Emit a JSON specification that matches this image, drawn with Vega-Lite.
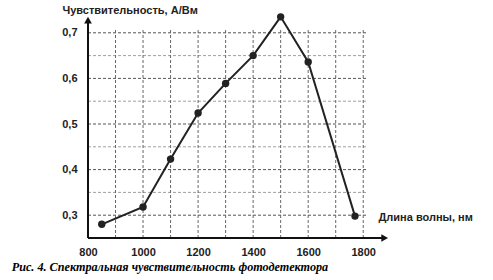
{
  "$schema": "https://vega.github.io/schema/vega-lite/v6.json",
  "width": 300,
  "height": 228,
  "autosize": "none",
  "padding": {"left": 88, "top": 10, "right": 105, "bottom": 42},
  "background": "white",
  "config": {"view": {"stroke": null}},
  "title": {
    "text": "Рис. 4. Спектральная чувствительность фотодетектора",
    "orient": "bottom",
    "anchor": "start",
    "dx": -50,
    "offset": 4,
    "font": "Liberation Serif",
    "fontStyle": "italic",
    "fontWeight": "bold",
    "fontSize": 12.2,
    "color": "#000"
  },
  "datasets": {
    "pts": [
      {"nm": 850, "s": 0.28},
      {"nm": 1000, "s": 0.318},
      {"nm": 1100, "s": 0.423},
      {"nm": 1200, "s": 0.524},
      {"nm": 1300, "s": 0.589},
      {"nm": 1400, "s": 0.65},
      {"nm": 1500, "s": 0.735},
      {"nm": 1600, "s": 0.636},
      {"nm": 1770, "s": 0.298}
    ],
    "hgrid": [
      {"y": 0.3, "c": "major"},
      {"y": 0.35, "c": "minor"},
      {"y": 0.4, "c": "major"},
      {"y": 0.45, "c": "minor"},
      {"y": 0.5, "c": "major"},
      {"y": 0.55, "c": "minor"},
      {"y": 0.6, "c": "major"},
      {"y": 0.65, "c": "minor"},
      {"y": 0.7, "c": "major"}
    ],
    "vgrid": [
      {"x": 900}, {"x": 1000}, {"x": 1100}, {"x": 1200}, {"x": 1300},
      {"x": 1400}, {"x": 1500}, {"x": 1600}, {"x": 1700}, {"x": 1800}
    ]
  },
  "layer": [
    {
      "data": {"name": "hgrid"},
      "mark": {"type": "rule", "strokeWidth": 1, "strokeDash": [3, 2]},
      "encoding": {
        "x": {"datum": 800, "type": "quantitative"},
        "x2": {"datum": 1815},
        "y": {"field": "y", "type": "quantitative"},
        "color": {"field": "c", "type": "nominal", "scale": {"domain": ["major", "minor"], "range": ["#555555", "#a0a0a0"]}, "legend": null}
      }
    },
    {
      "data": {"name": "vgrid"},
      "mark": {"type": "rule", "strokeWidth": 1, "strokeDash": [3, 2], "color": "#666666"},
      "encoding": {
        "x": {"field": "x", "type": "quantitative"},
        "y": {"datum": 0.25, "type": "quantitative"},
        "y2": {"datum": 0.71}
      }
    },
    {
      "data": {"values": [{}]},
      "mark": {"type": "rule", "strokeWidth": 2, "color": "#111111"},
      "encoding": {
        "x": {"datum": 800, "type": "quantitative"},
        "y": {"datum": 0.25, "type": "quantitative"},
        "y2": {"datum": 0.725}
      }
    },
    {
      "data": {"values": [{}]},
      "mark": {"type": "rule", "strokeWidth": 2, "color": "#111111"},
      "encoding": {
        "x": {"datum": 800, "type": "quantitative"},
        "x2": {"datum": 1875},
        "y": {"datum": 0.25, "type": "quantitative"}
      }
    },
    {
      "data": {"values": [{}]},
      "mark": {"type": "point", "shape": "triangle-up", "filled": true, "size": 60, "color": "#111111", "opacity": 1},
      "encoding": {
        "x": {"datum": 800, "type": "quantitative"},
        "y": {"datum": 0.728, "type": "quantitative"}
      }
    },
    {
      "data": {"values": [{}]},
      "mark": {"type": "point", "shape": "triangle-right", "filled": true, "size": 60, "color": "#111111", "opacity": 1},
      "encoding": {
        "x": {"datum": 1878, "type": "quantitative"},
        "y": {"datum": 0.25, "type": "quantitative"}
      }
    },
    {
      "data": {"name": "pts"},
      "mark": {"type": "line", "color": "#222222", "strokeWidth": 2, "point": {"filled": true, "size": 55, "color": "#222222", "opacity": 1}},
      "encoding": {
        "x": {
          "field": "nm",
          "type": "quantitative",
          "scale": {"domain": [800, 1890], "nice": false, "zero": false},
          "axis": {
            "values": [800, 1000, 1200, 1400, 1600, 1800],
            "domain": false,
            "ticks": false,
            "grid": false,
            "labelFont": "Liberation Sans",
            "labelFontWeight": "bold",
            "labelFontSize": 11,
            "labelColor": "#222222",
            "labelPadding": 8,
            "labelFlush": false,
            "format": "d",
            "title": "Длина волны, нм",
            "titleFont": "Liberation Sans",
            "titleFontWeight": "bold",
            "titleFontSize": 11,
            "titleColor": "#222222",
            "titleAlign": "left",
            "titleBaseline": "middle",
            "titleAnchor": null,
            "titleX": 290,
            "titleY": -21
          }
        },
        "y": {
          "field": "s",
          "type": "quantitative",
          "scale": {"domain": [0.25, 0.75], "nice": false, "zero": false},
          "axis": {
            "values": [0.3, 0.4, 0.5, 0.6, 0.7],
            "domain": false,
            "ticks": false,
            "grid": false,
            "labelFont": "Liberation Sans",
            "labelFontWeight": "bold",
            "labelFontSize": 11,
            "labelColor": "#222222",
            "labelPadding": 11,
            "labelExpr": "replace(format(datum.value, '.1f'), '.', ',')",
            "title": "Чувствительность, А/Вм",
            "titleFont": "Liberation Sans",
            "titleFontWeight": "bold",
            "titleFontSize": 11,
            "titleColor": "#222222",
            "titleAngle": 0,
            "titleAlign": "left",
            "titleBaseline": "middle",
            "titleAnchor": null,
            "titleX": -26,
            "titleY": 0
          }
        }
      }
    }
  ]
}
